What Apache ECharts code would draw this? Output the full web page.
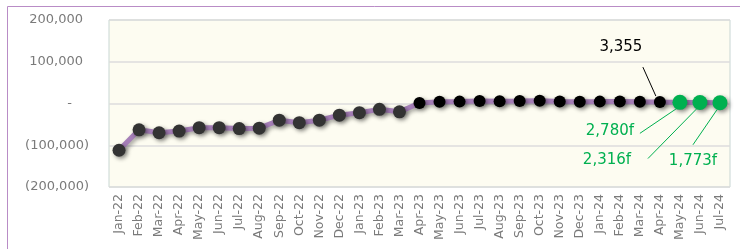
<!DOCTYPE html>
<html>
<head>
<meta charset="utf-8">
<script src="https://cdn.jsdelivr.net/npm/echarts@6/dist/echarts.min.js"></script>
<style>
  html, body { margin: 0; padding: 0; background: #fff; }
  #chart { width: 740px; height: 249px; }
</style>
</head>
<body>
<div id="chart"></div>
<script>
// months shown on the x axis
var months = ['Jan-22', 'Feb-22', 'Mar-22', 'Apr-22', 'May-22', 'Jun-22', 'Jul-22', 'Aug-22',
  'Sep-22', 'Oct-22', 'Nov-22', 'Dec-22', 'Jan-23', 'Feb-23', 'Mar-23', 'Apr-23', 'May-23',
  'Jun-23', 'Jul-23', 'Aug-23', 'Sep-23', 'Oct-23', 'Nov-23', 'Dec-23', 'Jan-24', 'Feb-24',
  'Mar-24', 'Apr-24', 'May-24', 'Jun-24', 'Jul-24']
// first period (dark grey markers)
var earlyValues = [-112000, -63000, -70000, -66000, -58000, -58000, -60000, -59000,
  -40000, -46000, -40000, -28000, -22000, -14000, -20000]
// recent actuals (black markers)
var recentValues = [1200, 4000, 4500, 6000, 5500, 5800, 6500, 5000, 4200, 4500, 5000, 4000, 3355]
// forecast (green markers)
var forecastValues = [2780, 2316, 1773]
var forecastLabels = ['2,780f', '2,316f', '1,773f']
var yTicks = [-200000, -100000, 0, 100000, 200000]

var allValues = earlyValues.concat(recentValues, forecastValues)

var seriesData = allValues.map(function (v, i) {
  var color = '#333333', size = 13
  if (i >= earlyValues.length) { color = '#000000'; size = 12 }
  if (i >= earlyValues.length + recentValues.length) { color = '#00B050'; size = 15 }
  return { value: v, symbolSize: size, itemStyle: { color: color } }
})

var labelColor = '#7a7a7a'
var myChart = echarts.init(document.getElementById('chart'))
var option = {
  animation: false,
  grid: {
    left: 109, right: 10, top: 20, bottom: 62,
    show: true,
    backgroundColor: '#FDFCF1',
    borderColor: '#c8d6d3',
    borderWidth: 1
  },
  xAxis: {
    type: 'category',
    data: months,
    boundaryGap: true,
    axisLine: { show: false },
    axisTick: { show: false },
    axisLabel: {
      rotate: 90,
      margin: 7,
      color: labelColor,
      fontFamily: 'DejaVu Sans',
      fontSize: 12.5
    }
  },
  yAxis: {
    type: 'value',
    min: yTicks[0],
    max: yTicks[yTicks.length - 1],
    interval: 100000,
    axisLine: { show: false },
    axisTick: { show: false },
    splitLine: { lineStyle: { color: '#dcdcdc', width: 1.5 } },
    axisLabel: {
      margin: 20,
      color: labelColor,
      fontFamily: 'DejaVu Sans',
      fontSize: 13,
      formatter: function (v) {
        var s = Math.abs(v).toLocaleString('en-US')
        if (v > 0) return '{p|' + s + '}'
        if (v === 0) return '{z|-}'
        return '(' + s + ')'
      },
      rich: {
        p: { padding: [0, 6, 0, 0], color: labelColor, fontFamily: 'DejaVu Sans', fontSize: 13 },
        z: { padding: [0, 17, 0, 0], color: labelColor, fontFamily: 'DejaVu Sans', fontSize: 13 }
      }
    }
  },
  series: [{
    type: 'line',
    data: seriesData,
    symbol: 'circle',
    lineStyle: {
      color: '#A67FB8',
      width: 5,
      shadowColor: 'rgba(0,0,0,0.35)',
      shadowBlur: 4,
      shadowOffsetX: 2,
      shadowOffsetY: 2
    },
    itemStyle: {
      shadowColor: 'rgba(0,0,0,0.45)',
      shadowBlur: 4,
      shadowOffsetX: 2,
      shadowOffsetY: 2
    },
    z: 3
  }]
}
myChart.setOption(option)

// annotations: leader lines and labels placed relative to data points
var lastActual = earlyValues.length + recentValues.length - 1
function pt(i) { return myChart.convertToPixel({ seriesIndex: 0 }, [i, allValues[i]]) }

var graphics = [{
  type: 'rect',
  shape: { x: 7.5, y: 6.5, width: 800, height: 400 },
  style: { fill: 'none', stroke: '#B98CC6', lineWidth: 1 },
  silent: true, z: 0
}]
var font = '15px "DejaVu Sans"'
var p = pt(lastActual)
graphics.push({
  type: 'line', shape: { x1: p[0] - 17, y1: p[1] - 35, x2: p[0] - 4, y2: p[1] - 6 },
  style: { stroke: '#000', lineWidth: 1 }, z: 10
})
graphics.push({
  type: 'text', style: { text: recentValues[recentValues.length - 1].toLocaleString('en-US'),
    x: p[0] - 39, y: p[1] - 55, font: font, fill: '#000', align: 'center', verticalAlign: 'middle' }, z: 10
})
var greenOffsets = [
  { line: [-3, 6, -40, 31], text: [-70, 29] },
  { line: [-3, 6, -52, 56], text: [-93, 58] },
  { line: [-3, 7, -27, 42], text: [-27, 58] }
]
forecastValues.forEach(function (v, k) {
  var q = pt(lastActual + 1 + k), o = greenOffsets[k]
  graphics.push({
    type: 'line', shape: { x1: q[0] + o.line[0], y1: q[1] + o.line[1], x2: q[0] + o.line[2], y2: q[1] + o.line[3] },
    style: { stroke: '#00B050', lineWidth: 1 }, z: 10
  })
  graphics.push({
    type: 'text', style: { text: forecastLabels[k], x: q[0] + o.text[0], y: q[1] + o.text[1],
      font: font, fill: '#00B050', align: 'center', verticalAlign: 'middle' }, z: 10
  })
})
myChart.setOption({ graphic: graphics })
</script>
</body>
</html>
